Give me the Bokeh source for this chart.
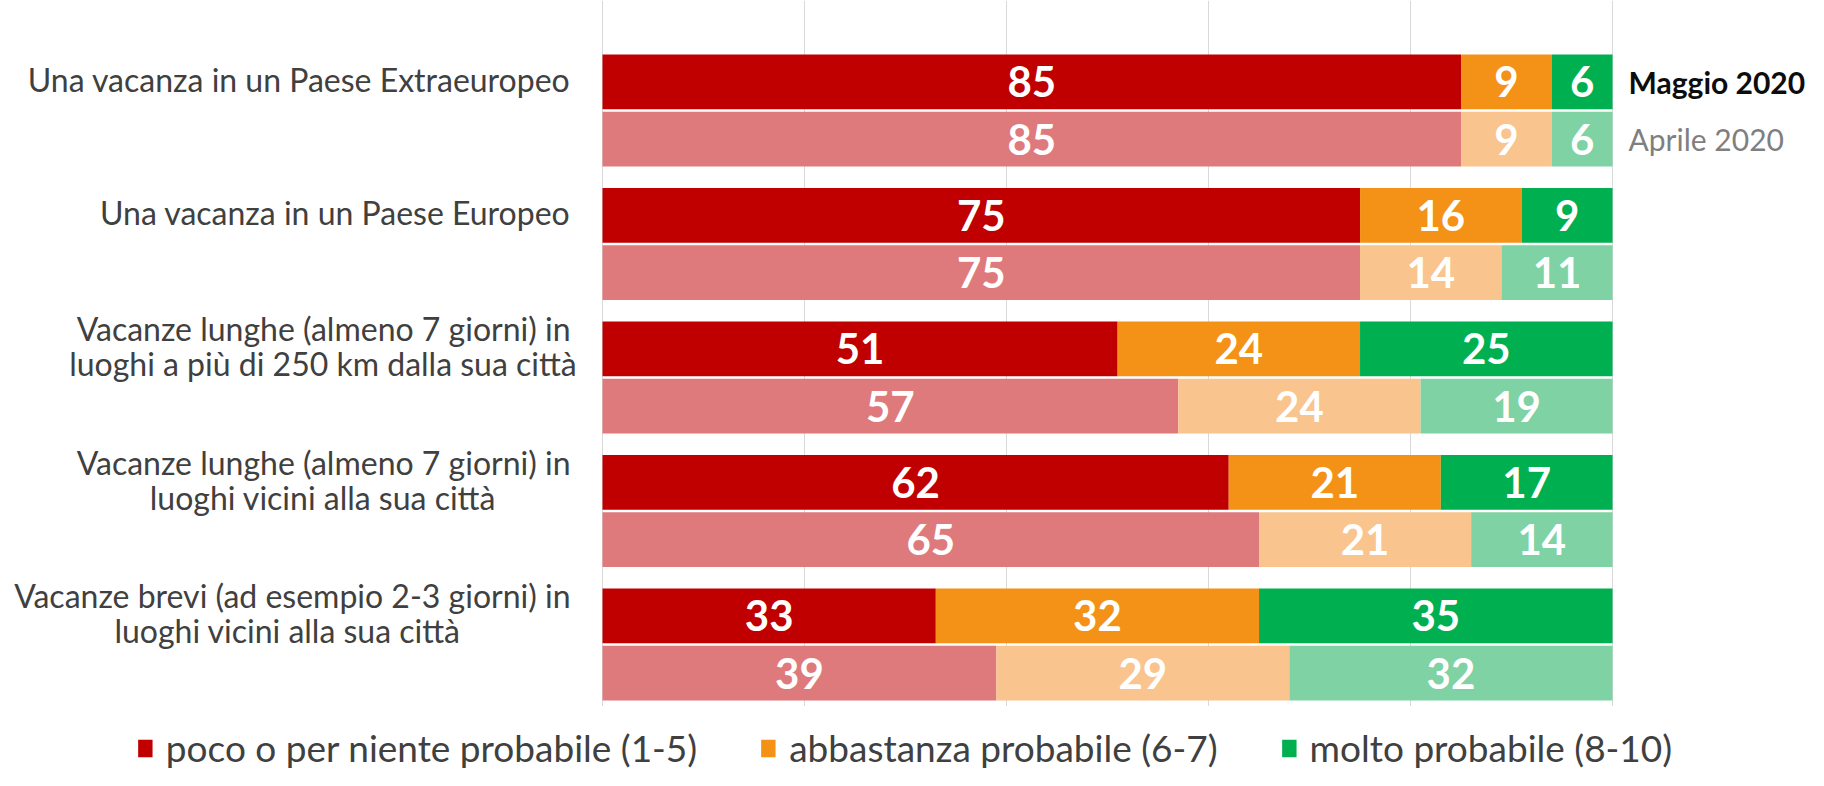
import numpy as np
from bokeh.plotting import figure
from bokeh.models import Range1d, Grid, FixedTicker, Legend, LegendItem, BoxAnnotation, ColumnDataSource
from bokeh.core.properties import value
from bokeh.embed import file_html
from bokeh.resources import INLINE

# ---------------- data ----------------
categories = [
    "Una vacanza in un Paese Extraeuropeo",
    "Una vacanza in un Paese Europeo",
    "Vacanze lunghe (almeno 7 giorni) in\nluoghi a più di 250 km dalla sua città",
    "Vacanze lunghe (almeno 7 giorni) in\nluoghi vicini alla sua città",
    "Vacanze brevi (ad esempio 2-3 giorni) in\nluoghi vicini alla sua città",
]
periods = ["Maggio 2020", "Aprile 2020"]
levels = ["poco o per niente probabile (1-5)", "abbastanza probabile (6-7)", "molto probabile (8-10)"]

maggio_poco = [85, 75, 51, 62, 33]
maggio_abbastanza = [9, 16, 24, 21, 32]
maggio_molto = [6, 9, 25, 17, 35]

aprile_poco = [85, 75, 57, 65, 39]
aprile_abbastanza = [9, 14, 24, 21, 29]
aprile_molto = [6, 11, 19, 14, 32]

grid_ticks = [0, 20, 40, 60, 80, 100]

# ---------------- style ----------------
maggio_colors = ["#C00000", "#F39217", "#00B050"]
aprile_colors = ["#DF7A7C", "#F9C48D", "#7FD2A3"]
FONT = "Lato"
W, H = 1808, 770
BAR_H = 0.41
OFF = 0.215
CAT_PX = 32
LINE_GAP = 35
LABEL_PAD = 32

p = figure(width=W, height=H, output_backend="svg", toolbar_location=None,
           x_axis_location=None, y_axis_location=None,
           x_range=Range1d(-59.6, 119.4), y_range=Range1d(4.944, -0.824),
           min_border=0, outline_line_color=None, background_fill_color="white",
           border_fill_color="white")
p.xgrid.visible = False
p.ygrid.visible = False
grid = Grid(dimension=0, ticker=FixedTicker(ticks=grid_ticks),
            grid_line_color="#D9D9D9", grid_line_width=1)
p.add_layout(grid)

idx = np.arange(len(categories))
series = {
    0: (np.array([maggio_poco, maggio_abbastanza, maggio_molto]), idx - OFF, maggio_colors),
    1: (np.array([aprile_poco, aprile_abbastanza, aprile_molto]), idx + OFF, aprile_colors),
}

legend_renderers = []
lab_x, lab_y, lab_t = [], [], []
for s, (vals, ys, cols) in series.items():
    rights = np.cumsum(vals, axis=0)
    lefts = rights - vals
    for j in range(3):
        src = ColumnDataSource(dict(y=ys, left=lefts[j], right=rights[j]))
        r = p.hbar(y="y", left="left", right="right", height=BAR_H, source=src,
                   fill_color=cols[j], line_color=None)
        if s == 0:
            legend_renderers.append(r)
        lab_x.extend(list(lefts[j] + vals[j] / 2))
        lab_y.extend(list(ys))
        lab_t.extend([str(v) for v in vals[j]])

# white cover below the last group so grid lines stop at the bars
p.add_layout(BoxAnnotation(top=4.46, bottom=6.0, fill_color="white", fill_alpha=1.0,
                           line_color=None, level="underlay"))

# value labels
p.text(x=lab_x, y=lab_y, text=lab_t, text_font=value(FONT), text_font_style="bold",
       text_font_size="42px", text_color="white", text_align="center",
       text_baseline="middle")

# category labels: block right-aligned next to the bars, lines centred on each other
for k, cat in enumerate(categories):
    lines = cat.split("\n")
    yk = idx[k] - OFF - 0.02
    n = len(lines)
    w1 = len(lines[0]) * 0.442 * CAT_PX
    for li, line in enumerate(lines):
        dy = (li - (n - 1) / 2) * LINE_GAP
        if li == 0:
            p.text(x=[0], y=[yk], text=[line], text_font=value(FONT),
                   text_font_size=f"{CAT_PX}px", text_color="#404040",
                   text_align="right", text_baseline="middle",
                   x_offset=-LABEL_PAD, y_offset=dy)
        else:
            p.text(x=[0], y=[yk], text=[line], text_font=value(FONT),
                   text_font_size=f"{CAT_PX}px", text_color="#404040",
                   text_align="center", text_baseline="middle",
                   x_offset=-LABEL_PAD - w1 / 2, y_offset=dy)

# period labels on the first group
p.text(x=[100], y=[idx[0] - OFF], text=[periods[0]], text_font=value(FONT),
       text_font_style="bold", text_font_size="30px", text_color="#0D0D0D",
       text_align="left", text_baseline="middle", x_offset=16)
p.text(x=[100], y=[idx[0] + OFF], text=[periods[1]], text_font=value(FONT),
       text_font_size="30px", text_color="#7F7F7F",
       text_align="left", text_baseline="middle", x_offset=16)

legend = Legend(items=[LegendItem(label=levels[j], renderers=[legend_renderers[j]]) for j in range(3)],
                orientation="horizontal", location="bottom_center",
                label_text_font=FONT, label_text_font_size="37px", label_text_color="#404040",
                glyph_width=18, glyph_height=22, label_standoff=12, spacing=62,
                padding=0, margin=0, border_line_color=None, background_fill_alpha=0.0)
p.add_layout(legend)

open("out.html", "w").write(file_html(p, INLINE))
